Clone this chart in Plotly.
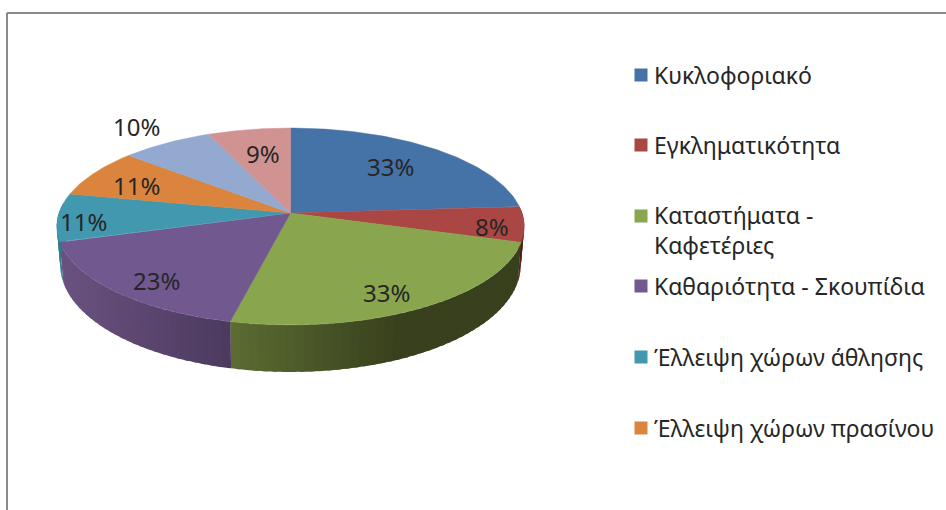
import numpy as np
import plotly.graph_objects as go

# Data
percent_values = [33, 8, 33, 23, 11, 11, 10, 9]
percent_labels = ["33%", "8%", "33%", "23%", "11%", "11%", "10%", "9%"]
legend_lines = ["Κυκλοφοριακό", "Εγκληματικότητα", "Καταστήματα -", "Καφετέριες",
                "Καθαριότητα - Σκουπίδια", "Έλλειψη χώρων άθλησης", "Έλλειψη χώρων πρασίνου"]

# Styles
top_colors = ["#4572A7", "#AA4643", "#89A54E", "#71588F", "#4198AF", "#DB843D", "#93A9CF", "#D19392"]
side_start = {1: "#5a1a1a", 2: "#38401d", 3: "#4c3a5e", 4: "#2f7a8c"}
side_end = {1: "#5a1a1a", 2: "#5c6c32", 3: "#6a5280", 4: "#2f7a8c"}
label_xy = [(390, 166), (492, 226), (386, 292), (156, 280), (83, 221), (136, 185), (136, 126), (263, 153)]
legend_y = [75, 145, 216, 286, 357, 428]
legend_text_y = [75, 145, 215, 245, 286, 357, 428]
FONT = "Noto Sans"


def hex_rgb(h):
    return np.array([int(h[i:i + 2], 16) for i in (1, 3, 5)], float)


def mix(a, b, t):
    c = hex_rgb(a) * (1 - t) + hex_rgb(b) * t
    return "rgb(%d,%d,%d)" % tuple(c.round())


def project(deg, r=1.0):
    """Perspective projection of a point on the tilted pie's unit disc to page pixels."""
    a = np.radians(deg)
    u, v = r * np.sin(a), r * np.cos(a)
    d = 1 + 0.137 * v
    return 290.5 + 231.5 * u / d, (213 - 67.4 * v) / d


def project_low(deg):
    x, y = project(deg)
    v = np.cos(np.radians(deg))
    return 290.5 + (x - 290.5) * 0.985, y + 37 - 10 * v


fig = go.Figure()
total = sum(percent_values)
edges = np.concatenate([[0], np.cumsum(percent_values) / total * 360])

# Side wall, drawn as narrow shaded strips that overlap the next one
for i, col in side_start.items():
    a0 = max(edges[i], 84)
    a1 = min(edges[i + 1], 276)
    grid = np.arange(a0, a1 + 0.01, 2.0)
    if grid[-1] < a1:
        grid = np.append(grid, a1)
    for k in range(len(grid) - 1):
        g = np.linspace(grid[k], min(grid[k + 1] + 1.0, a1), 5)
        x_top, y_top = project(g)
        x_low, y_low = project_low(g)
        xm = x_top[:3].mean()
        if i == 2:
            t = np.clip((400 - xm) / 168, 0, 1)
        elif i == 3:
            t = np.clip((232 - xm) / 172, 0, 1)
        else:
            t = 0
        c = mix(col, side_end[i], t)
        fig.add_trace(go.Scatter(
            x=list(x_top) + list(x_low[::-1]), y=list(y_top) + list(y_low[::-1]),
            mode="none", fill="toself", fillcolor=c,
            hoverinfo="skip", showlegend=False))

# Top face
for i, c in enumerate(top_colors):
    g = np.linspace(edges[i], edges[i + 1], 90)
    x, y = project(g)
    ax, ay = project(0.0, 0.0)
    fig.add_trace(go.Scatter(
        x=[ax] + list(x) + [ax], y=[ay] + list(y) + [ay],
        mode="lines", fill="toself", fillcolor=c, line=dict(color=c, width=0.5),
        hoverinfo="skip", showlegend=False))

# Legend keys
fig.add_trace(go.Scatter(
    x=[641] * len(legend_y), y=legend_y, mode="markers",
    marker=dict(symbol="square", size=13, color=top_colors[:len(legend_y)]),
    hoverinfo="skip", showlegend=False))

annots = []
for (x, y), t in zip(label_xy, percent_labels):
    annots.append(dict(x=x, y=y, text=t, showarrow=False, xanchor="center", yanchor="middle",
                       font=dict(family=FONT, size=24, color="#262626")))
for y, t in zip(legend_text_y, legend_lines):
    annots.append(dict(x=652, y=y, text=t, showarrow=False, xanchor="left", yanchor="middle",
                       align="left", font=dict(family=FONT, size=23, color="#262626")))

fig.update_layout(
    width=946, height=510, margin=dict(l=0, r=0, t=0, b=0, autoexpand=False),
    paper_bgcolor="white", plot_bgcolor="white", showlegend=False,
    xaxis=dict(range=[0, 946], visible=False, fixedrange=True),
    yaxis=dict(range=[510, 0], visible=False, fixedrange=True),
    annotations=annots,
    shapes=[dict(type="line", x0=7, x1=7, y0=13, y1=510, line=dict(color="#8a8a8a", width=2)),
            dict(type="line", x0=7, x1=946, y0=13, y1=13, line=dict(color="#8a8a8a", width=2))],
)
fig.write_html("out.html", post_script="document.body.style.margin='0';document.body.style.overflow='hidden';",
               config={"displayModeBar": False})
